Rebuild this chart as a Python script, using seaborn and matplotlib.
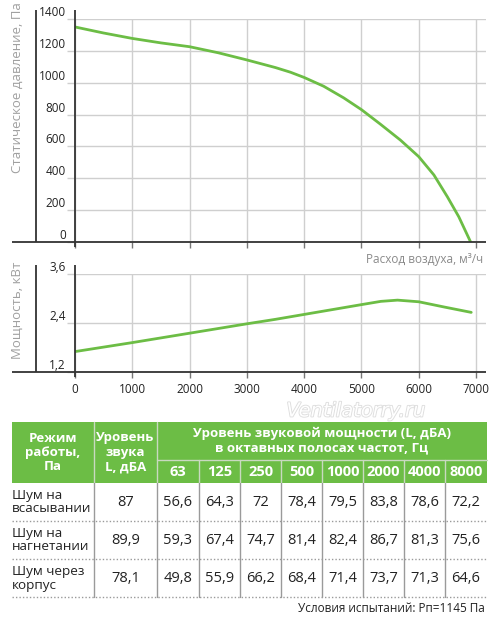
import matplotlib.pyplot as plt
import matplotlib.patheffects as pe
import seaborn as sns
from matplotlib.patches import Rectangle

# pressure curve, Pa vs m3/h
flow_p = [0, 500, 1000, 1500, 2000, 2500, 3000, 3500, 3760, 4000, 4340, 4690,
          5000, 5330, 5680, 6000, 6265, 6500, 6700, 6906]
pressure = [1350, 1312, 1278, 1250, 1226, 1188, 1143, 1095, 1066, 1033, 978, 905,
            831, 740, 640, 536, 421, 284, 158, 0]

# power curve, kW vs m3/h
flow_n = [0, 1000, 2000, 3000, 3500, 4000, 4500, 5000, 5340, 5630, 6000, 6450, 6917]
power = [1.70, 1.92, 2.15, 2.38, 2.49, 2.61, 2.73, 2.85, 2.93, 2.96, 2.92, 2.79, 2.66]

x_ticks = [0, 1000, 2000, 3000, 4000, 5000, 6000, 7000]
p_ticks = [0, 200, 400, 600, 800, 1000, 1200, 1400]
n_ticks = [1.2, 2.4, 3.6]
n_tick_labels = ['1,2', '2,4', '3,6']

# noise table
modes = ['Шум на\nвсасывании', 'Шум на\nнагнетании', 'Шум через\nкорпус']
total = ['87', '89,9', '78,1']
bands = ['63', '125', '250', '500', '1000', '2000', '4000', '8000']
levels = [
    ['56,6', '64,3', '72', '78,4', '79,5', '83,8', '78,6', '72,2'],
    ['59,3', '67,4', '74,7', '81,4', '82,4', '86,7', '81,3', '75,6'],
    ['49,8', '55,9', '66,2', '68,4', '71,4', '73,7', '71,3', '64,6'],
]

W, H = 500, 623
green = '#6cbd45'
dark = '#333333'
grid = '#cfcfcf'

sns.set_theme(style='white')
plt.rcParams['font.family'] = ['Open Sans', 'DejaVu Sans']
tick_font = ['Liberation Sans Narrow', 'Open Sans', 'DejaVu Sans']


def box(l, t, r, b):
    return [l / W, 1 - b / H, (r - l) / W, (b - t) / H]


fig = plt.figure(figsize=(W / 100, H / 100), dpi=100)

xmax = 7000 * (486 - 75) / (476 - 75)


def style_axis(ax, yt, ylabels, show_x):
    ax.set_facecolor('none')
    for s in ax.spines.values():
        s.set_visible(False)
    ax.set_xlim(0, xmax)
    ax.set_xticks(x_ticks)
    ax.set_yticks(yt)
    ax.set_yticklabels(ylabels, family=tick_font, fontsize=8.5, color='#222222')
    for lbl in ax.get_yticklabels():
        lbl.set_va('bottom')
    ax.grid(True, color=grid, lw=1)
    ax.tick_params(axis='y', left=True, length=6, width=1, color=grid, pad=0.5)
    ax.tick_params(axis='x', bottom=True, length=4, width=1, color='#777777', pad=4)
    if show_x:
        ax.set_xticklabels([str(v) for v in x_ticks], family=tick_font, fontsize=8.5,
                           color='#222222')
    else:
        ax.set_xticklabels([])
    ax.set_xlabel('')
    ax.set_ylabel('')


ax1 = fig.add_axes(box(75, 19, 486, 242))
sns.lineplot(x=flow_p, y=pressure, ax=ax1, color=green, lw=2)
ax1.set_ylim(0, 1400)
style_axis(ax1, p_ticks, [str(v) for v in p_ticks], False)

ax2 = fig.add_axes(box(75, 274, 486, 372))
sns.lineplot(x=flow_n, y=power, ax=ax2, color=green, lw=2)
ax2.set_ylim(1.2, 3.6)
style_axis(ax2, n_ticks, n_tick_labels, True)

fig.text(17 / W, 1 - 88 / H, 'Статическое давление, Па', rotation=90,
         ha='center', va='center', fontsize=9.5, color='#a0a0a0')
fig.text(17 / W, 1 - 310 / H, 'Мощность, кВт', rotation=90,
         ha='center', va='center', fontsize=9.5, color='#a0a0a0')
fig.text(483 / W, 1 - 259 / H, 'Расход воздуха, м³/ч', ha='right', va='center',
         fontsize=8.5, color='#8a8a8a')

# overlay axes in pixel units for frame lines and the table
ax_t = fig.add_axes([0, 0, 1, 1])
ax_t.set_xlim(0, W)
ax_t.set_ylim(H, 0)
ax_t.axis('off')
ax_t.patch.set_visible(False)

for (x0, x1, y0, y1) in [(75, 75, 10, 247), (36, 36, 10, 242), (12, 486, 242, 242),
                         (75, 75, 265, 377), (36, 36, 265, 372), (12, 486, 372, 372)]:
    ax_t.plot([x0, x1], [y0, y1], color=dark, lw=1.3, solid_capstyle='butt')

ax_t.text(356, 411, 'Ventilatorry.ru', ha='center', va='center', fontsize=14,
          style='italic', family='DejaVu Sans', color='white',
          path_effects=[pe.withStroke(linewidth=1.3, foreground='#dedede')])

# table layout
cols = [12, 94, 157, 199, 240, 281, 322, 363, 404, 445, 487]
head_top, head_mid, head_bot = 422, 460, 483
row_edges = [483, 521, 559, 597]

ax_t.add_patch(Rectangle((cols[0], head_top), cols[-1] - cols[0], head_bot - head_top,
                         facecolor=green, edgecolor='none'))
hl = '#c9d9c0'
for x in cols[1:3]:
    ax_t.plot([x, x], [head_top, head_bot], color=hl, lw=1)
for x in cols[3:-1]:
    ax_t.plot([x, x], [head_mid, head_bot], color=hl, lw=1)
ax_t.plot([cols[2], cols[-1]], [head_mid, head_mid], color=hl, lw=1)

hkw = dict(ha='center', va='center', color='white', fontweight='bold', fontsize=9.5,
           linespacing=1.15)
ax_t.text((cols[0] + cols[1]) / 2, (head_top + head_bot) / 2, 'Режим\nработы,\nПа', **hkw)
ax_t.text((cols[1] + cols[2]) / 2, (head_top + head_bot) / 2, 'Уровень\nзвука\nL, дБА', **hkw)
ax_t.text((cols[2] + cols[-1]) / 2, (head_top + head_mid) / 2,
          'Уровень звуковой мощности (L, дБА)\nв октавных полосах частот, Гц', **hkw)
for i, b in enumerate(bands):
    ax_t.text((cols[i + 2] + cols[i + 3]) / 2, (head_mid + head_bot) / 2 + 1, b,
              **{**hkw, 'fontsize': 10.5})

for x in cols[1:-1]:
    ax_t.plot([x, x], [row_edges[0], row_edges[-1]], color='#9a9a9a', lw=1)
for y in row_edges[1:]:
    ax_t.plot([cols[0], cols[-1]], [y, y], color='#9a9a9a', lw=1, ls=(0, (1, 1.5)))

dkw = dict(va='center', color='#222222', fontsize=10.5, linespacing=1.1)
for r in range(len(modes)):
    yc = (row_edges[r] + row_edges[r + 1]) / 2
    ax_t.text(cols[0], yc, modes[r], ha='left', **{**dkw, 'fontsize': 9.7})
    ax_t.text((cols[1] + cols[2]) / 2, yc, total[r], ha='center', **dkw)
    for i, v in enumerate(levels[r]):
        ax_t.text((cols[i + 2] + cols[i + 3]) / 2, yc, v, ha='center', **dkw)

ax_t.text(485, 608, 'Условия испытаний: Рп=1145 Па', ha='right', va='center',
          fontsize=8.5, color='#222222')

fig.savefig('out.png', dpi=100)
